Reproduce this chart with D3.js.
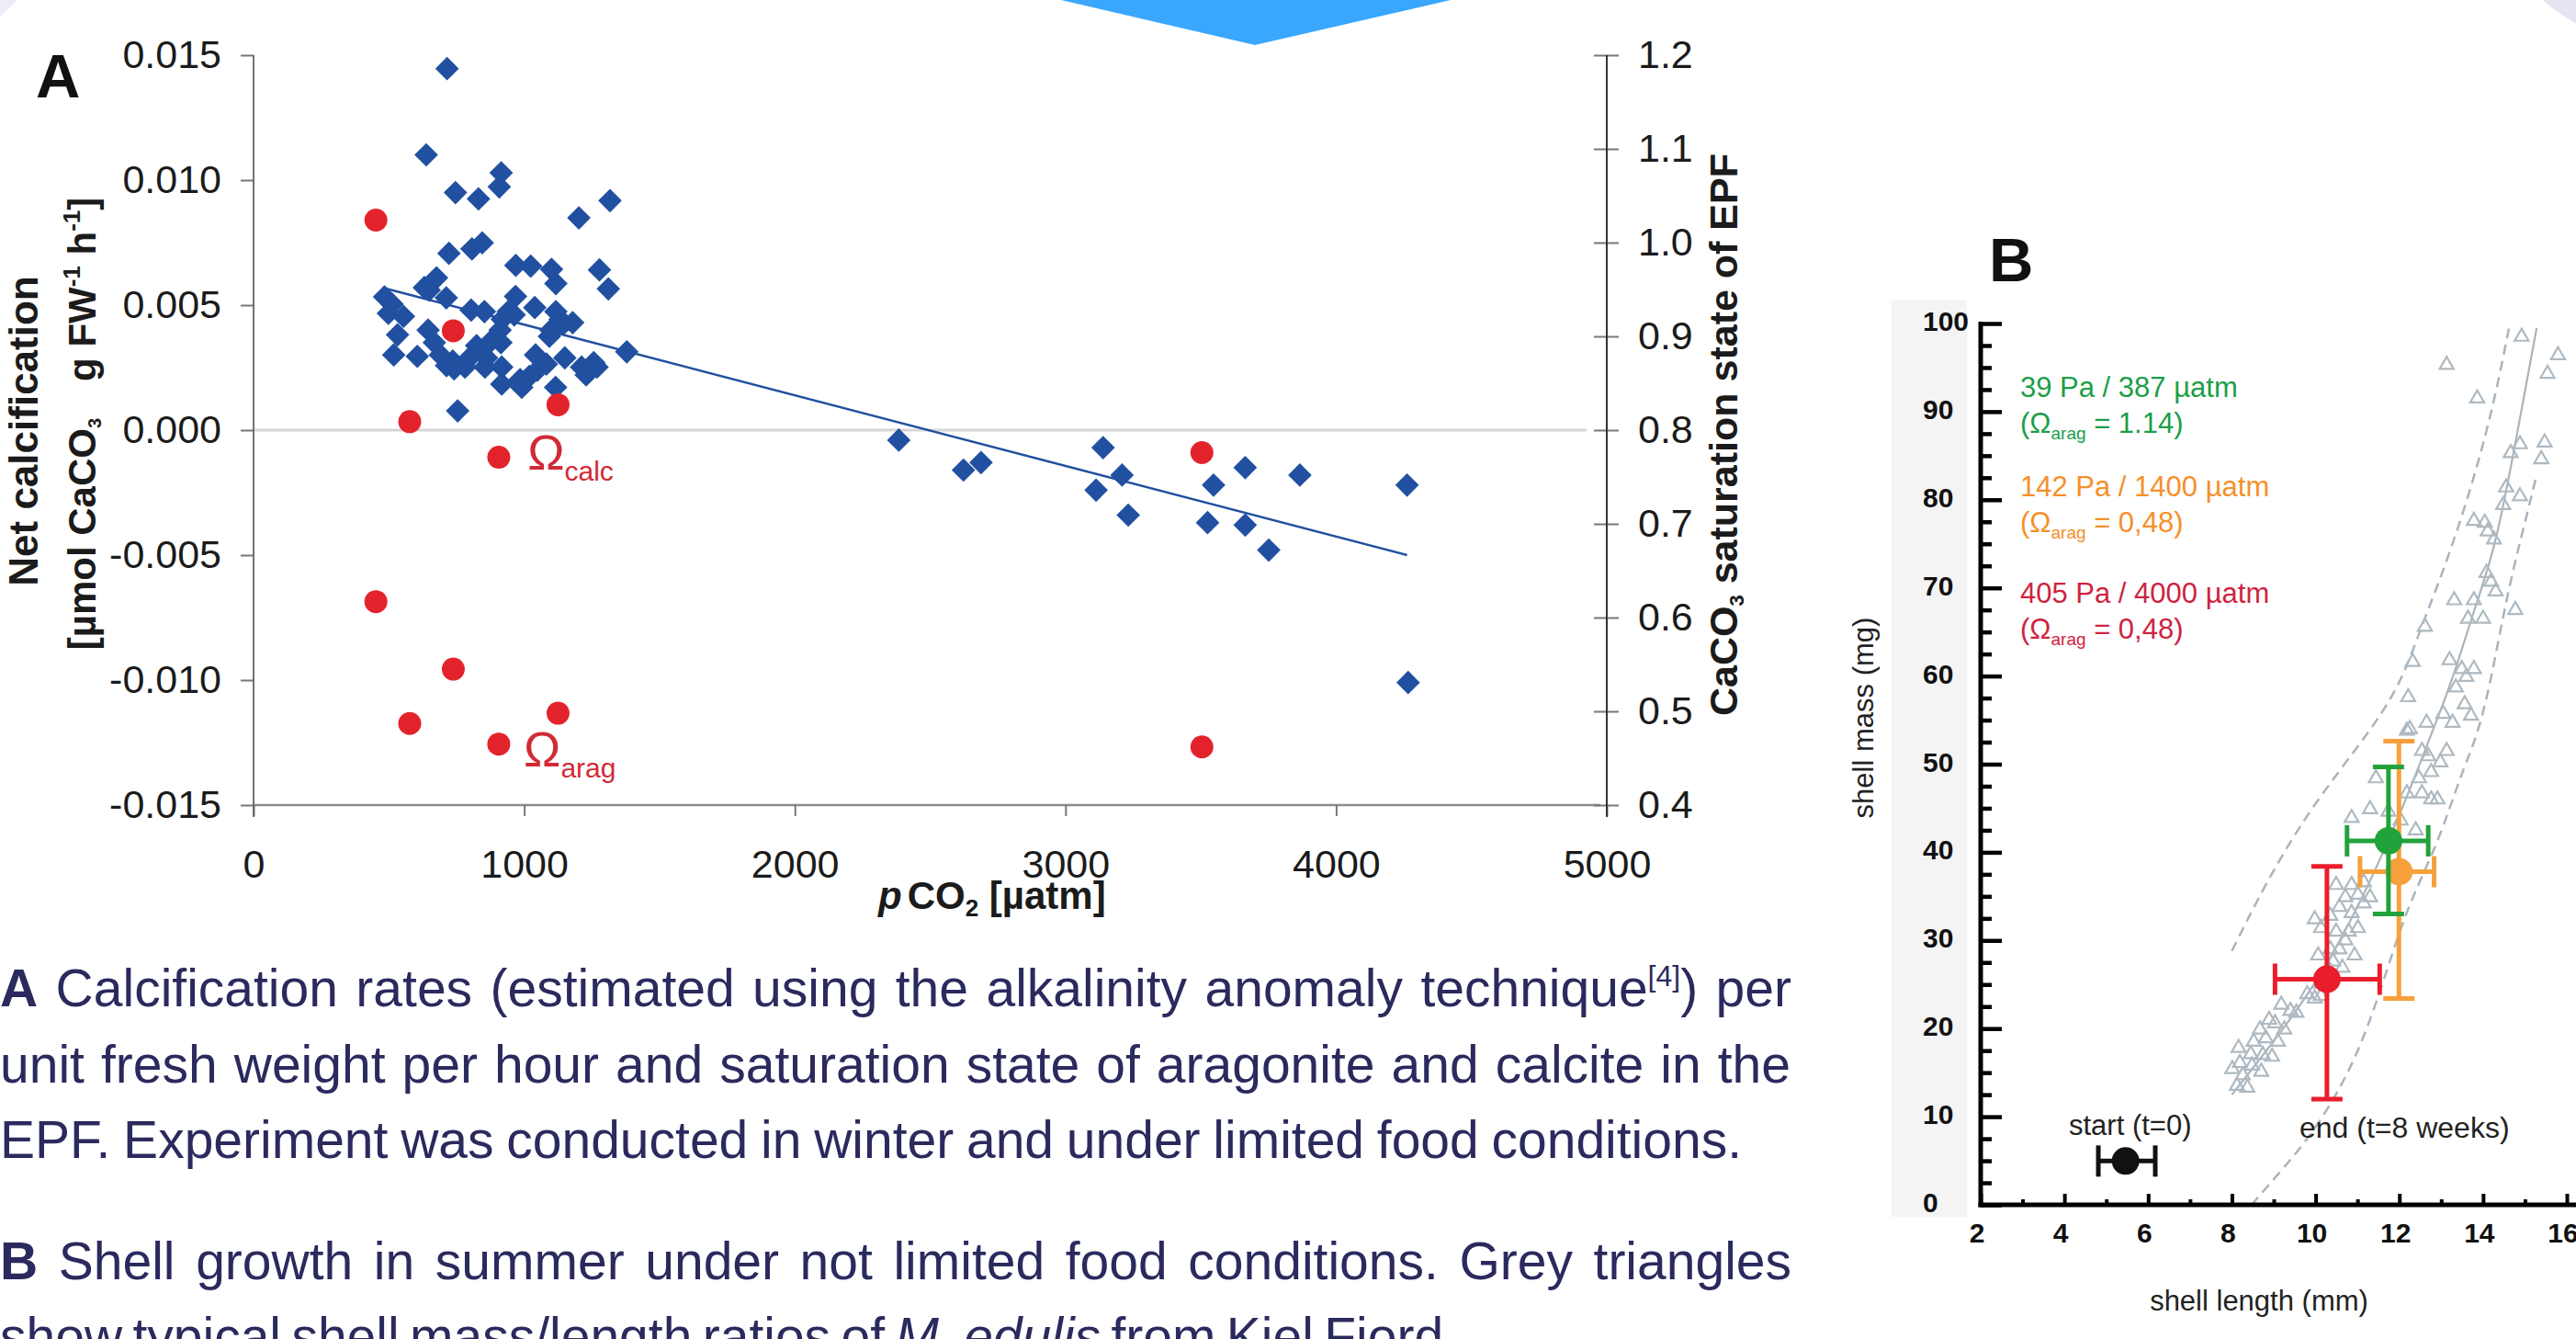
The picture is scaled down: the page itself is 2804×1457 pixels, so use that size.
<!DOCTYPE html>
<html>
<head>
<meta charset="utf-8">
<script src="https://cdn.jsdelivr.net/npm/d3@7"></script>
<style>
  body { margin: 0; background: #fff; }
  svg { display: block; }
</style>
</head>
<body>
<svg id="fig" width="2804" height="1457"></svg>
<script>
const FONT = '"Liberation Sans", Arial, Helvetica, sans-serif';

// ---------- panel A: net calcification vs pCO2 ----------
const ratePco2 = [715, 638, 915, 908, 746, 831, 1317, 1202, 722, 807, 845, 969, 1024, 1101, 1278, 1117, 1311, 676, 631, 484,
  512, 712, 968, 1039, 804, 853, 554, 1117, 1179, 963, 919, 532, 645, 911, 1099, 1144, 824, 914, 668, 518,
  605, 690, 736, 781, 741, 855, 917, 1042, 1048, 991, 917, 1116, 1082, 1150, 1212, 1257, 1229, 1269, 1379, 754,
  1093, 1133, 941, 872, 498, 649, 1019, 985, 861, 713, 798,
  2384, 2623, 2688, 3139, 3113, 3209, 3232, 3525, 3547, 3664, 3664, 3751, 3866, 4262, 4266];
const rateValue = [0.01446, 0.01101, 0.01029, 0.00973, 0.0095, 0.00925, 0.00918, 0.00849, 0.00707, 0.00725, 0.00749, 0.00659, 0.00656, 0.00643, 0.00641, 0.00586, 0.00565, 0.00609, 0.0057, 0.00533,
  0.00504, 0.00529, 0.00535, 0.0049, 0.0048, 0.00474, 0.00455, 0.00474, 0.0043, 0.00461, 0.00443, 0.00381, 0.004, 0.004, 0.004, 0.00424, 0.00338, 0.0035, 0.0035, 0.00301,
  0.00295, 0.00301, 0.00276, 0.00252, 0.00245, 0.00252, 0.00252, 0.00301, 0.00239, 0.00171, 0.00184, 0.00171, 0.00264, 0.00289, 0.00252, 0.0027, 0.00221, 0.00252, 0.00313, 0.00077,
  0.00375, 0.00443, 0.00474, 0.0035, 0.00467, 0.0056, 0.00215, 0.00202, 0.00289, 0.00258, 0.00289,
  -0.0004, -0.0016, -0.0013, -0.0007, -0.0024, -0.0018, -0.0034, -0.0037, -0.0022, -0.0015, -0.0038, -0.0048, -0.0018, -0.0022, -0.0101];
const omegaPco2 = [452, 577, 738, 906, 1125, 3504];
const omegaCalc = [1.024, 0.809, 0.906, 0.771, 0.827, 0.776];
const omegaArag = [0.617, 0.487, 0.545, 0.465, 0.498, 0.462];
const trendPco2 = [476, 4262];
const trendRate = [0.0057, -0.005];
const omegaNamePco2 = [1012, 998];
const omegaNameValue = [0.758, 0.441];
const omegaNameSub = ["calc", "arag"];
const pco2Ticks = [0, 1000, 2000, 3000, 4000, 5000];
const rateTicks = [-0.015, -0.01, -0.005, 0, 0.005, 0.01, 0.015];
const omegaTicks = [0.4, 0.5, 0.6, 0.7, 0.8, 0.9, 1.0, 1.1, 1.2];

// ---------- panel B: shell mass vs shell length ----------
const refLength = [8.12, 8.37, 8.26, 8.01, 8.19, 8.48, 8.70, 8.45, 8.74, 8.96, 8.16, 8.52, 8.81, 9.10, 8.67, 9.03, 9.25, 9.40, 9.18, 9.54,
  8.89, 9.98, 10.13, 9.80, 10.13, 10.35, 10.42, 10.64, 10.06, 10.35, 10.57, 10.71, 10.93, 10.49, 10.79, 11.01, 10.13, 9.98, 10.35, 10.57,
  10.86, 11.15, 10.71, 11.01, 11.30, 10.49, 10.86, 11.15, 10.86, 11.44, 11.30, 11.74, 12.03, 12.39, 12.18, 12.54, 12.76, 12.91, 12.47, 12.76,
  12.98, 13.13, 12.69, 12.54, 12.25, 14.92, 13.13, 15.79, 15.54, 13.86, 14.88, 14.66, 15.47, 15.39, 14.55, 14.88, 14.48, 13.78, 14.04, 14.11,
  14.26, 14.08, 14.19, 14.30, 13.31, 13.78, 13.64, 14.00, 14.77, 12.61, 12.32, 13.20, 13.49, 13.78, 13.60, 13.35, 12.21, 13.05, 13.56, 13.71,
  12.65, 13.27, 12.18];
const refMass = [13.5, 13.3, 14.7, 15.4, 16.1, 15.8, 15.1, 17.1, 17.0, 16.8, 17.8, 18.5, 18.9, 18.5, 19.9, 20.6, 19.9, 22.0, 22.7, 21.8,
  21.0, 23.4, 23.7, 23.9, 25.1, 26.5, 27.6, 26.9, 28.3, 29.0, 29.0, 30.0, 28.3, 31.0, 31.0, 31.4, 31.4, 32.4, 32.8, 33.8,
  33.1, 34.2, 34.9, 35.2, 34.9, 36.3, 36.3, 36.6, 43.9, 48.4, 44.9, 44.6, 43.6, 42.5, 46.7, 46.7, 46.0, 46.0, 48.4, 49.1,
  50.2, 51.5, 50.9, 51.5, 54.0, 98.5, 95.3, 96.4, 94.3, 91.5, 86.3, 85.3, 86.5, 84.6, 81.4, 80.4, 79.4, 77.6, 77.4, 76.4,
  75.5, 71.7, 70.7, 69.6, 68.6, 68.6, 66.5, 66.5, 67.5, 65.6, 61.6, 61.8, 60.8, 60.8, 59.9, 58.7, 57.6, 55.7, 56.8, 55.5,
  54.7, 54.7, 53.8];
const midLength = [8.0, 9.0, 10.0, 11.0, 12.0, 12.72, 13.27, 13.78, 14.30, 14.81, 15.28];
const midMass = [12.5, 18.5, 25.0, 33.5, 44.0, 52.9, 59.5, 67.5, 74.5, 87.4, 99.5];
const upperLength = [8.0, 8.74, 9.84, 11.44, 12.10, 12.54, 12.98, 13.49, 13.93, 14.30, 14.62];
const upperMass = [28.8, 35.9, 44.9, 54.5, 59.9, 65.8, 71.0, 78.0, 84.9, 91.9, 99.5];
const lowerLength = [8.47, 9.18, 9.69, 10.35, 11.01, 11.59, 12.18, 12.91, 13.49, 13.78, 14.08, 14.37, 14.66, 15.03, 15.28];
const lowerMass = [0, 3.9, 6.7, 11.2, 17.1, 24.8, 33.8, 40.8, 49.1, 52.2, 57.1, 64.1, 71.0, 78.0, 82.8];

// drawn in this order: start, 1400 µatm, 387 µatm, 4000 µatm
const groupColor = ["#111111", "#f6a03b", "#22a23a", "#ea1d2c"];
const groupLength = [5.46, 11.99, 11.74, 10.27];
const groupMass = [4.97, 37.8, 41.3, 25.6];
const lengthLo = [4.81, 11.06, 10.75, 9.03];
const lengthHi = [6.17, 12.83, 12.69, 11.53];
const massLo = [null, 23.4, 33.0, 12.0];
const massHi = [null, 52.6, 49.7, 38.4];

const legendTop = ["39 Pa / 387 µatm", "142 Pa / 1400 µatm", "405 Pa / 4000 µatm"];
const legendOmega = ["1.14", "0,48", "0,48"];
const legendColor = ["#1c9e48", "#f5902a", "#cf2340"];
const lengthTicks = [2, 3, 4, 5, 6, 7, 8, 9, 10, 11, 12, 13, 14, 15, 16];
const massTicks = d3.range(0, 100.1, 2.5);

const svg = d3.select("#fig").attr("font-family", FONT);

// page decoration
svg.append("circle").attr("cx", -100).attr("cy", -100).attr("r", 155).attr("fill", "#ededf7");
svg.append("circle").attr("cx", 2900).attr("cy", -150).attr("r", 200).attr("fill", "#e4e4f2");
svg.append("path").attr("d", "M1155,0 L1579,0 L1366,49 Z").attr("fill", "#3aa7fe");

// ================= panel A =================
const x = d3.scaleLinear().domain([0, 5000]).range([276, 1749]);
const yRate = d3.scaleLinear().domain([-0.015, 0.015]).range([876, 60]);
const yOmega = d3.scaleLinear().domain([0.4, 1.2]).range([876, 60]);
const gA = svg.append("g");

gA.append("line")
  .attr("x1", x(0)).attr("x2", 1727)
  .attr("y1", yRate(0)).attr("y2", yRate(0))
  .attr("stroke", "#d6d6d6").attr("stroke-width", 3);
gA.append("line")
  .attr("x1", x(0)).attr("x2", 1742)
  .attr("y1", yRate(-0.015)).attr("y2", yRate(-0.015))
  .attr("stroke", "#8c8c8c").attr("stroke-width", 2.5);

const leftAxis = gA.append("g")
  .attr("transform", `translate(${x(0)},0)`)
  .call(d3.axisLeft(yRate).tickValues(rateTicks).tickFormat((d) => d.toFixed(3)).tickSize(14).tickPadding(21));
leftAxis.select(".domain").remove();
leftAxis.selectAll("line").attr("stroke", "#777").attr("stroke-width", 2);
leftAxis.attr("font-family", FONT).attr("font-size", 43).selectAll("text").attr("fill", "#1b1b1b");

const rightAxis = gA.append("g")
  .attr("transform", `translate(${x(5000)},0)`)
  .call(d3.axisRight(yOmega).tickValues(omegaTicks).tickFormat((d) => d.toFixed(1)).tickSize(13).tickPadding(21));
rightAxis.select(".domain").remove();
rightAxis.selectAll("line").attr("x1", -14).attr("stroke", "#777").attr("stroke-width", 2);
rightAxis.attr("font-family", FONT).attr("font-size", 43).selectAll("text").attr("fill", "#1b1b1b");

const bottomAxis = gA.append("g")
  .attr("transform", `translate(0,${yRate(-0.015)})`)
  .call(d3.axisBottom(x).tickValues(pco2Ticks).tickFormat((d) => String(d)).tickSize(12).tickPadding(36));
bottomAxis.select(".domain").remove();
bottomAxis.selectAll("line").attr("stroke", "#777").attr("stroke-width", 2);
bottomAxis.attr("font-family", FONT).attr("font-size", 43).selectAll("text").attr("fill", "#1b1b1b");

gA.append("line").attr("x1", x(0)).attr("x2", x(0)).attr("y1", 60).attr("y2", 889)
  .attr("stroke", "#666").attr("stroke-width", 1.8);
gA.append("line").attr("x1", x(5000)).attr("x2", x(5000)).attr("y1", 60).attr("y2", 889)
  .attr("stroke", "#333").attr("stroke-width", 2);

// trend line
gA.append("path")
  .datum(d3.zip(trendPco2, trendRate))
  .attr("fill", "none").attr("stroke", "#2150a0").attr("stroke-width", 2.5)
  .attr("d", d3.line().x((d) => x(d[0])).y((d) => yRate(d[1])));

// diamonds
const diamond = d3.symbol().type(d3.symbolSquare).size(330);
gA.selectAll(".dia")
  .data(d3.zip(ratePco2, rateValue))
  .enter()
  .append("path")
  .attr("class", "dia")
  .attr("d", diamond)
  .attr("transform", (d) => `translate(${x(d[0])},${yRate(d[1])}) rotate(45)`)
  .attr("fill", "#2150a0");

// saturation state dots
const omegaPts = d3.zip(omegaPco2, omegaCalc).concat(d3.zip(omegaPco2, omegaArag));
gA.selectAll(".om")
  .data(omegaPts)
  .enter()
  .append("circle")
  .attr("class", "om")
  .attr("cx", (d) => x(d[0]))
  .attr("cy", (d) => yOmega(d[1]))
  .attr("r", 12.5)
  .attr("fill", "#e3232c");

omegaNameSub.forEach((s, i) => {
  const t = gA.append("text")
    .attr("x", x(omegaNamePco2[i]))
    .attr("y", yOmega(omegaNameValue[i]))
    .attr("fill", "#d22a35");
  t.append("tspan").attr("font-size", 54).text("Ω");
  t.append("tspan").attr("font-size", 30).attr("dy", 12).text(s);
});

// axis titles
const yTitle = gA.append("g").attr("font-weight", "bold").attr("font-size", 44).attr("fill", "#1b1b1b");
yTitle.append("text")
  .attr("transform", "translate(41,469) rotate(-90)")
  .attr("text-anchor", "middle")
  .text("Net calcification");
const yTitle2 = yTitle.append("text")
  .attr("transform", "translate(104,461) rotate(-90)")
  .attr("text-anchor", "middle")
  .attr("font-size", 42);
yTitle2.append("tspan").text("[µmol CaCO");
yTitle2.append("tspan").attr("font-size", 20).attr("dy", 6).text("3");
yTitle2.append("tspan").attr("dx", 40).attr("dy", -6).text("g FW");
yTitle2.append("tspan").attr("font-size", 26).attr("dy", -17).text("-1");
yTitle2.append("tspan").attr("dy", 17).text(" h");
yTitle2.append("tspan").attr("font-size", 26).attr("dy", -17).text("-1");
yTitle2.append("tspan").attr("dy", 17).text("]");

const rTitle = yTitle.append("text")
  .attr("transform", "translate(1891,473) rotate(-90)")
  .attr("text-anchor", "middle")
  .attr("font-size", 43);
rTitle.append("tspan").text("CaCO");
rTitle.append("tspan").attr("font-size", 22).attr("dy", 7).text("3");
rTitle.append("tspan").attr("dy", -7).text(" saturation state of EPF");

const xTitle = yTitle.append("text").attr("x", 956).attr("y", 989).attr("font-size", 42);
xTitle.append("tspan").attr("font-style", "italic").text("p");
xTitle.append("tspan").attr("dx", 6).text("CO");
xTitle.append("tspan").attr("font-size", 26).attr("dy", 8).text("2");
xTitle.append("tspan").attr("dy", -8).text(" [µatm]");

svg.append("text").attr("x", 39).attr("y", 106)
  .attr("font-weight", "bold").attr("font-size", 67).attr("fill", "#111").text("A");

// ================= panel B =================
const xLen = d3.scaleLinear().domain([2, 16]).range([2156, 2794]);
const yMass = d3.scaleLinear().domain([0, 100]).range([1311, 352]);
const gB = svg.append("g");

gB.append("rect").attr("x", 2059).attr("y", 327).attr("width", 82).attr("height", 997).attr("fill", "#f4f4f4");

const bandLine = d3.line().curve(d3.curveBasis).x((d) => xLen(d[0])).y((d) => yMass(d[1]));
gB.append("path").datum(d3.zip(midLength, midMass))
  .attr("fill", "none").attr("stroke", "#a9b4bd").attr("stroke-width", 2.2).attr("d", bandLine);
gB.append("path").datum(d3.zip(upperLength, upperMass))
  .attr("fill", "none").attr("stroke", "#a9b4bd").attr("stroke-width", 2.5)
  .attr("stroke-dasharray", "11 7").attr("d", bandLine);
gB.append("path").datum(d3.zip(lowerLength, lowerMass))
  .attr("fill", "none").attr("stroke", "#a9b4bd").attr("stroke-width", 2.5)
  .attr("stroke-dasharray", "11 7").attr("d", bandLine);

const tri = d3.symbol().type(d3.symbolTriangle).size(100);
gB.selectAll(".tri")
  .data(d3.zip(refLength, refMass))
  .enter()
  .append("path")
  .attr("class", "tri")
  .attr("d", tri)
  .attr("transform", (d) => `translate(${xLen(d[0])},${yMass(d[1])})`)
  .attr("fill", "none").attr("stroke", "#aeb9c1").attr("stroke-width", 2.2);

// error bars + means
groupColor.forEach((c, i) => {
  const g = gB.append("g").attr("stroke", c).attr("stroke-width", 5);
  const cy = yMass(groupMass[i]);
  g.append("line").attr("x1", xLen(lengthLo[i])).attr("x2", xLen(lengthHi[i])).attr("y1", cy).attr("y2", cy);
  [lengthLo[i], lengthHi[i]].forEach((v) => {
    g.append("line").attr("x1", xLen(v)).attr("x2", xLen(v)).attr("y1", cy - 17).attr("y2", cy + 17);
  });
  if (massLo[i] !== null) {
    const cx = xLen(groupLength[i]);
    g.append("line").attr("x1", cx).attr("x2", cx).attr("y1", yMass(massLo[i])).attr("y2", yMass(massHi[i]));
    [massLo[i], massHi[i]].forEach((v) => {
      g.append("line").attr("x1", cx - 17).attr("x2", cx + 17).attr("y1", yMass(v)).attr("y2", yMass(v));
    });
  }
  gB.append("circle").attr("cx", xLen(groupLength[i])).attr("cy", cy).attr("r", 15).attr("fill", c);
});

// axes
const yAxisB = gB.append("g")
  .attr("transform", `translate(${xLen(2)},0)`)
  .call(d3.axisRight(yMass).tickValues(massTicks).tickFormat("").tickSizeOuter(0));
yAxisB.select(".domain").remove();
yAxisB.selectAll(".tick line")
  .attr("x2", (d) => (d % 10 === 0 ? 23 : 12))
  .attr("stroke", "#000").attr("stroke-width", 4.5);
const xAxisB = gB.append("g")
  .attr("transform", `translate(0,${yMass(0)})`)
  .call(d3.axisTop(xLen).tickValues(lengthTicks).tickFormat("").tickSizeOuter(0));
xAxisB.select(".domain").remove();
xAxisB.selectAll(".tick line")
  .attr("y2", (d) => (d % 2 === 0 ? -12 : -6))
  .attr("stroke", "#000").attr("stroke-width", 4);
gB.append("line").attr("x1", xLen(2)).attr("x2", xLen(2)).attr("y1", yMass(100) - 2).attr("y2", yMass(0) + 2.5)
  .attr("stroke", "#000").attr("stroke-width", 5);
gB.append("line").attr("x1", xLen(2) - 2.5).attr("x2", 2804).attr("y1", yMass(0)).attr("y2", yMass(0))
  .attr("stroke", "#000").attr("stroke-width", 5);

gB.selectAll(".ylab")
  .data(massTicks.filter((d) => d % 10 === 0))
  .enter()
  .append("text")
  .attr("class", "ylab")
  .attr("x", 2093)
  .attr("y", (d) => yMass(d) + 8)
  .attr("font-size", 30).attr("font-weight", "bold").attr("fill", "#111")
  .text((d) => d);
gB.selectAll(".xlab")
  .data(lengthTicks.filter((d) => d % 2 === 0))
  .enter()
  .append("text")
  .attr("class", "xlab")
  .attr("x", (d) => xLen(d) - 4)
  .attr("y", 1352)
  .attr("text-anchor", "middle")
  .attr("font-size", 30).attr("font-weight", "bold").attr("fill", "#111")
  .text((d) => d);

gB.append("text").attr("x", 2459).attr("y", 1426).attr("text-anchor", "middle")
  .attr("font-size", 31).attr("fill", "#222").text("shell length (mm)");
gB.append("text").attr("transform", "translate(2039,781) rotate(-90)").attr("text-anchor", "middle")
  .attr("font-size", 31).attr("fill", "#222").text("shell mass (mg)");
gB.append("text").attr("x", 2252).attr("y", 1235).attr("font-size", 31).attr("fill", "#222").text("start (t=0)");
gB.append("text").attr("x", 2503).attr("y", 1238).attr("font-size", 32).attr("fill", "#222").text("end (t=8 weeks)");

const legendBase = [432, 540, 656];
legendTop.forEach((s, i) => {
  gB.append("text").attr("x", 2199).attr("y", legendBase[i]).attr("font-size", 31)
    .attr("fill", legendColor[i]).text(s);
  const t = gB.append("text").attr("x", 2199).attr("y", legendBase[i] + 39).attr("font-size", 31)
    .attr("fill", legendColor[i]);
  t.append("tspan").text("(Ω");
  t.append("tspan").attr("font-size", 19).attr("dy", 7).text("arag");
  t.append("tspan").attr("dy", -7).text(" = " + legendOmega[i] + ")");
});

svg.append("text").attr("x", 2165).attr("y", 306)
  .attr("font-weight", "bold").attr("font-size", 67).attr("fill", "#111").text("B");

// ================= caption =================
const captionLines = [
  [{ t: "A", b: 1 }, { t: " Calcification rates (estimated using the alkalinity anomaly technique" }, { t: "[4]", sup: 1 }, { t: ") per", down: 1 }],
  [{ t: "unit fresh weight per hour and saturation state of aragonite and calcite in the" }],
  [{ t: "EPF. Experiment was conducted in winter and under limited food conditions." }],
  [{ t: "B", b: 1 }, { t: " Shell growth in summer under not limited food conditions. Grey triangles" }],
  [{ t: "show typical shell mass/length ratios of " }, { t: "M. edulis", i: 1 }, { t: " from Kiel Fjord." }],
];
const captionBase = [1095, 1178, 1260, 1392, 1474];
const captionRight = [1950, 1949, 1896, 1950, 1587];
const cap = svg.append("g").attr("fill", "#2b2a5e").attr("font-size", 57);
captionLines.forEach((segs, i) => {
  const t = cap.append("text").attr("x", 0).attr("y", captionBase[i]);
  segs.forEach((s) => {
    const ts = t.append("tspan").text(s.t);
    if (s.b) ts.attr("font-weight", "bold");
    if (s.i) ts.attr("font-style", "italic");
    if (s.sup) ts.attr("font-size", 32).attr("dy", -22);
    if (s.down) ts.attr("dy", 22);
  });
  const w = t.node().getComputedTextLength();
  const spaces = t.text().split(" ").length - 1;
  t.attr("word-spacing", (captionRight[i] - w) / spaces);
});
</script>
</body>
</html>
